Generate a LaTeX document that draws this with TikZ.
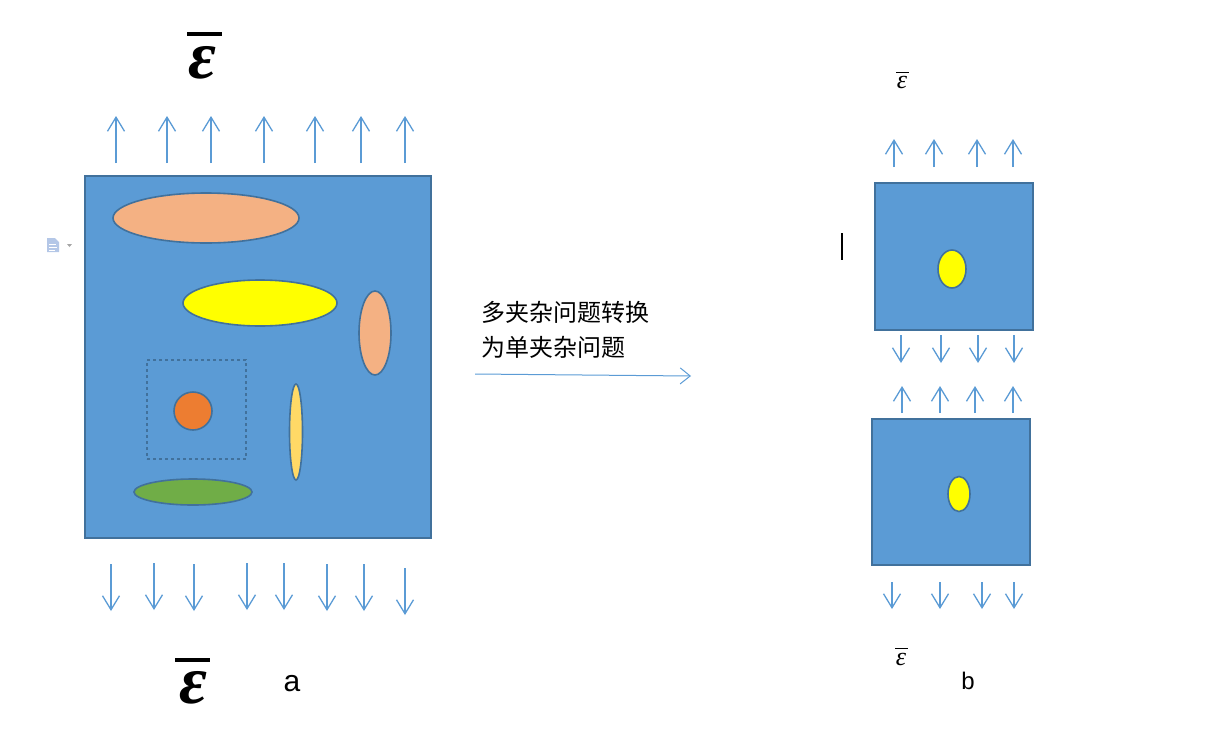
\documentclass[tikz,border=0pt]{standalone}
\usepackage{fontspec}
\setmainfont{Liberation Serif}
\newfontfamily\cjk{Noto Sans CJK SC}
\newfontfamily\sansf{Liberation Sans}
\newfontfamily\epsf{Liberation Serif}
\usetikzlibrary{shapes.geometric,arrows.meta}
\definecolor{fillblue}{HTML}{5B9BD5}
\definecolor{edgeblue}{HTML}{41719C}
\definecolor{arrblue}{HTML}{5B9BD5}
\definecolor{peach}{HTML}{F4B183}
\definecolor{orangec}{HTML}{ED7D31}
\definecolor{goldc}{HTML}{FFD966}
\definecolor{greenc}{HTML}{70AD47}
\definecolor{iconblue}{HTML}{B4C7E7}
\definecolor{pureyellow}{HTML}{FFFF00}
\begin{document}
\begin{tikzpicture}[x=1pt,y=-1pt,
  panel/.style={draw=edgeblue,fill=fillblue,line width=2pt,rectangle,inner sep=0pt},
  incl/.style={draw=edgeblue,line width=1.6pt,ellipse,inner sep=0pt},
  load/.style={draw=arrblue,line width=1.3pt,-{Straight Barb[length=14pt,width=17pt,line width=1.3pt]}},
  mainarr/.style={draw=arrblue,line width=1pt,-{Straight Barb[length=10pt,width=16pt,line width=1pt]}},
  eps/.style={inner sep=0pt},
  bar/.style={line width=#1},
]
\useasboundingbox (0,0) rectangle (1222,734);

% ---------- panel a ----------
\node[panel,minimum width=346pt,minimum height=362pt] (boxa) at (258,357) {};
\node[incl,fill=peach,minimum width=186pt,minimum height=50pt] (e1) at (206,218) {};
\node[incl,fill=pureyellow,minimum width=154pt,minimum height=46pt] (e2) at (260,303) {};
\node[incl,fill=peach,minimum width=32pt,minimum height=84pt] (e3) at (375,333) {};
\node[draw=edgeblue,dashed,line width=1.3pt,minimum width=99pt,minimum height=99pt,inner sep=0pt] (dbox) at (196.5,409.5) {};
\node[incl,circle,fill=orangec,minimum size=38pt] (c1) at (193,411) {};
\node[incl,fill=goldc,minimum width=13pt,minimum height=96pt] (e4) at (296,432) {};
\node[incl,fill=greenc,minimum width=118pt,minimum height=26pt] (e5) at (193,492) {};

\foreach \x in {116,167,211,264,315,361,405}
  \draw[load] (\x,163) -- (\x,116);
\foreach \x/\t in {111/564,154/563,194/564,247/563,284/563,327/564,364/564,405/568}
  \draw[load] (\x,\t) -- (\x,\t+47);

\node[eps,font=\epsf\bfseries\itshape\fontsize{68}{68}\selectfont] (epsa1) at (202,63) {ε};
\draw[bar=3.2pt] (187,34) -- (222,34);
\node[eps,font=\epsf\bfseries\itshape\fontsize{68}{68}\selectfont] (epsa2) at (193,688) {ε};
\draw[bar=3.2pt] (175,660) -- (210,660);
\node[inner sep=0pt,font=\sansf\fontsize{30}{30}\selectfont] (la) at (292,684) {a};

% small icon at left
\fill[iconblue] (47,238) -- (55,238) -- (59,242) -- (59,252) -- (47,252) -- cycle;
\draw[white,line width=0.8pt] (49,244)--(56,244) (49,247)--(57,247) (49,250)--(55,250);
\fill[gray!70] (67,244) -- (72,244) -- (69.5,247) -- cycle;

% ---------- middle ----------
\node[inner sep=0pt,anchor=west,font=\cjk\fontsize{24}{24}\selectfont] (t1) at (481,312) {多夹杂问题转换};
\node[inner sep=0pt,anchor=west,font=\cjk\fontsize{24}{24}\selectfont] (t2) at (481,347) {为单夹杂问题};
\coordinate (m1) at (475,374);
\coordinate (m2) at (691,376);
\draw[mainarr] (m1) -- (m2);

% cursor
\draw[line width=1.6pt] (842,233) -- (842,260);

% ---------- panel b ----------
\node[eps,font=\epsf\itshape\fontsize{26}{26}\selectfont] (epsb1) at (902,82) {ε};
\draw[bar=1pt] (896,72) -- (909,72);
\foreach \x in {894,934,977,1013}
  \draw[load] (\x,167) -- (\x,139);
\node[panel,minimum width=158pt,minimum height=147pt] (boxb1) at (954,256.5) {};
\node[incl,fill=pureyellow,minimum width=28pt,minimum height=38pt] (y1) at (952,269) {};
\foreach \x in {901,941,978,1014}
  \draw[load] (\x,335) -- (\x,363);
\foreach \x in {902,940,975,1013}
  \draw[load] (\x,413) -- (\x,386);
\node[panel,minimum width=158pt,minimum height=146pt] (boxb2) at (951,492) {};
\node[incl,fill=pureyellow,minimum width=22pt,minimum height=35pt] (y2) at (959,494) {};
\foreach \x in {892,940,982,1014}
  \draw[load] (\x,582) -- (\x,609);
\node[eps,font=\epsf\itshape\fontsize{26}{26}\selectfont] (epsb2) at (901,659) {ε};
\draw[bar=1pt] (895,648) -- (908,648);
\node[inner sep=0pt,font=\sansf\fontsize{24}{24}\selectfont] (lb) at (968,681) {b};
\end{tikzpicture}
\end{document}
